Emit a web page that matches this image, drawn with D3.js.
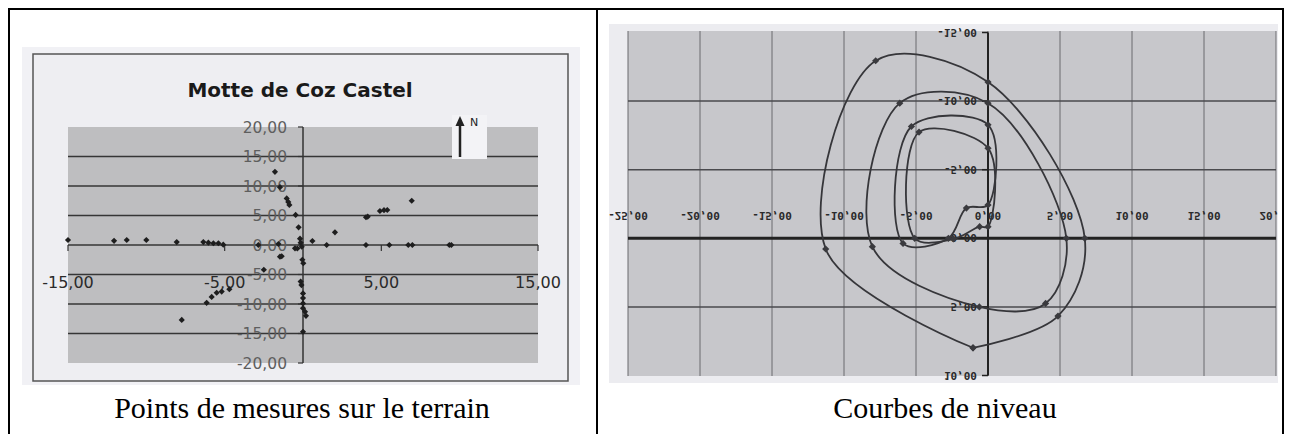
<!DOCTYPE html>
<html><head><meta charset="utf-8">
<script src="https://cdn.jsdelivr.net/npm/d3@7"></script>
<style>body{margin:0;background:#fff;overflow:hidden} svg{display:block}</style>
</head><body>
<svg id="c" width="1291" height="434"></svg>
<script>
// ---------- DATA ----------
const leftTitle = "Motte de Coz Castel";
const leftCaption = "Points de mesures sur le terrain";
const rightCaption = "Courbes de niveau";

// measured points (left chart)
const pointsX = [-15.0,-12.06,-11.25,-10.0,-8.06,-6.36,-6.04,-5.72,-5.4,-5.09,
  -1.79,-1.47,-1.04,-0.94,-0.87,-0.47,-0.28,-0.19,-0.15,0.6,1.51,2.04,
  -2.85,-1.57,-1.47,-1.36,-0.51,-0.36,-0.08,-0.04,0.02,-2.5,
  -0.15,-0.1,0,0,0,0,0.13,0.19,0,
  -6.15,-5.83,-5.51,-5.19,-4.7,-7.74,
  4.02,4.02,4.13,4.91,5.17,5.38,5.51,6.72,6.98,9.34,9.47,6.94];
const pointsY = [0.85,0.7,0.85,0.85,0.5,0.5,0.4,0.3,0.3,0.05,
  12.4,9.8,7.9,7.3,6.8,5.1,3.0,1.07,0.4,0.68,0,2.15,
  0,0.17,-1.98,-1.9,-0.56,-0.6,-0.3,-2.5,-3.1,-4.2,
  -6.2,-6.8,-8.2,-9.0,-9.9,-10.7,-11.3,-12.0,-14.7,
  -9.8,-8.8,-8.1,-7.9,-7.5,-12.7,
  0,4.7,4.8,5.76,5.9,5.93,0,0,0,0,0,7.5];

const leftXTicks = [-15,-5,5,15];
const leftYTicks = [-20,-15,-10,-5,0,5,10,15,20];

// contour lines (right chart), points as [x, y]
const contour1 = [[-1.04,7.98],[-11.27,0.78],[-7.8,-12.94],[0,-11.39],[6.72,0],[4.86,5.67],[-1.04,7.98]];
const contour2 = [[-8.03,0.61],[-6.13,-9.85],[0,-9.85],[5.44,0],[4.0,4.75],[-0.6,5.0]];
const contour3 = [[-5.9,0.37],[-5.32,-8.15],[0,-8.27],[0,-2.43],[-1.5,-2.2],[-2.75,0]];
const contour4 = [[-5.09,0],[-4.79,-7.74],[0,-6.57],[0,-0.85],[-0.58,-0.85],[-2.4,0.05]];

const rightXTicks = [-25,-20,-15,-10,-5,0,5,10,15,20];
const rightYTicks = [-15,-10,-5,0,5,10];

// ---------- DRAW ----------
const svg = d3.select("#c");
const loc = d3.formatLocale({decimal:",", thousands:" ", grouping:[3], currency:["","€"], minus:"-"});
const fmt = loc.format(".2f");

// table borders
const tb = svg.append("g").attr("stroke","#000").attr("stroke-width",2);
tb.append("line").attr("x1",8).attr("x2",1284).attr("y1",9).attr("y2",9);
tb.append("line").attr("x1",9).attr("x2",9).attr("y1",8).attr("y2",434);
tb.append("line").attr("x1",597).attr("x2",597).attr("y1",8).attr("y2",434);
tb.append("line").attr("x1",1283).attr("x2",1283).attr("y1",8).attr("y2",434);

// ===== LEFT CHART =====
const L = svg.append("g");
L.append("rect").attr("x",22).attr("y",47).attr("width",558).attr("height",338).attr("fill","#f1f1f5");
L.append("rect").attr("x",33).attr("y",54).attr("width",535).attr("height",327)
  .attr("fill","#eeeef2").attr("stroke","#555").attr("stroke-width",1.5);

const lx = d3.scaleLinear().domain([-15,15]).range([68,538]);
const ly = d3.scaleLinear().domain([-20,20]).range([363,127]);

L.append("rect").attr("x",lx(-15)).attr("y",ly(20)).attr("width",lx(15)-lx(-15)).attr("height",ly(-20)-ly(20))
  .attr("fill","#bebec0");

// horizontal gridlines
L.append("g").selectAll("line").data(leftYTicks.filter(v=>v!==20 && v!==-20)).join("line")
  .attr("x1",lx(-15)).attr("x2",lx(15)).attr("y1",d=>ly(d)).attr("y2",d=>ly(d))
  .attr("stroke","#363636").attr("stroke-width",1.7);

// north arrow box
L.append("rect").attr("x",452).attr("y",115).attr("width",35).attr("height",44).attr("fill","#f3f3f6");
L.append("line").attr("x1",460).attr("x2",460).attr("y1",157).attr("y2",124).attr("stroke","#222").attr("stroke-width",2.5);
L.append("path").attr("d","M460,116 L455.5,126 L464.5,126 Z").attr("fill","#222");
L.append("text").attr("x",470).attr("y",126).attr("font-family","DejaVu Sans").attr("font-size",11)
  .attr("fill","#222").text("N");

// y axis
L.append("line").attr("x1",lx(0)).attr("x2",lx(0)).attr("y1",ly(20)).attr("y2",ly(-20)).attr("stroke","#333").attr("stroke-width",1.5);
L.append("g").selectAll("line").data(leftYTicks).join("line")
  .attr("x1",lx(0)-5).attr("x2",lx(0)).attr("y1",d=>ly(d)).attr("y2",d=>ly(d)).attr("stroke","#333").attr("stroke-width",1.2);
// x axis ticks
L.append("g").selectAll("line").data(leftXTicks).join("line")
  .attr("x1",d=>lx(d)).attr("x2",d=>lx(d)).attr("y1",ly(0)).attr("y2",ly(0)+6).attr("stroke","#333").attr("stroke-width",1.2);

// y labels
L.append("g").selectAll("text").data(leftYTicks).join("text")
  .attr("x",lx(0)-16).attr("y",d=>ly(d)).attr("dy","0.36em").attr("text-anchor","end")
  .attr("font-family","DejaVu Sans").attr("font-size",15.5).attr("fill","#5e5e5e").text(d=>fmt(d));
// x labels
L.append("g").selectAll("text").data(leftXTicks).join("text")
  .attr("x",d=>lx(d)).attr("y",ly(-6.3)).attr("dy","0.36em").attr("text-anchor","middle")
  .attr("font-family","DejaVu Sans").attr("font-size",16).attr("fill","#2a2a2a").text(d=>fmt(d));

// points (diamond markers)
const sym = d3.symbol().type(d3.symbolSquare).size(19);
L.append("g").selectAll("path").data(pointsX.map((x,i)=>[x,pointsY[i]])).join("path")
  .attr("transform",d=>`translate(${lx(d[0])},${ly(d[1])}) rotate(45)`).attr("d",sym).attr("fill","#1e1e1e");

// title
L.append("text").attr("x",300).attr("y",97).attr("text-anchor","middle")
  .attr("font-family","DejaVu Sans").attr("font-weight","bold").attr("font-size",20).attr("fill","#1a1a1a").text(leftTitle);

// caption
svg.append("text").attr("x",302).attr("y",418).attr("text-anchor","middle")
  .attr("font-family","Liberation Serif").attr("font-size",30).attr("fill","#000").text(leftCaption);

// ===== RIGHT CHART =====
const R = svg.append("g");
svg.append("clipPath").attr("id","rclip").append("rect").attr("x",609).attr("y",24).attr("width",669).attr("height",359);
const Rc = R.append("g").attr("clip-path","url(#rclip)");
Rc.append("rect").attr("x",609).attr("y",24).attr("width",669).attr("height",359).attr("fill","#ececf0");

const rx = d3.scaleLinear().domain([-25,20]).range([628,1276]);
const ry = d3.scaleLinear().domain([-15,10]).range([32.5,375.5]);

Rc.append("rect").attr("x",rx(-25)).attr("y",31).attr("width",rx(20)-rx(-25)).attr("height",345).attr("fill","#c7c7cb");

// vertical gridlines
Rc.append("g").selectAll("line").data(rightXTicks).join("line")
  .attr("x1",d=>rx(d)).attr("x2",d=>rx(d)).attr("y1",31).attr("y2",376)
  .attr("stroke","#6a6a6e").attr("stroke-width",1);
// horizontal gridlines
Rc.append("g").selectAll("line").data(rightYTicks.filter(v=>v!==-15 && v!==10 && v!==0)).join("line")
  .attr("x1",rx(-25)).attr("x2",rx(20)).attr("y1",d=>ry(d)).attr("y2",d=>ry(d))
  .attr("stroke","#4a4a4e").attr("stroke-width",1.5);
// x axis
Rc.append("line").attr("x1",rx(-25)).attr("x2",rx(20)).attr("y1",ry(0)).attr("y2",ry(0))
  .attr("stroke","#222").attr("stroke-width",3);
// y axis
Rc.append("line").attr("x1",rx(0)).attr("x2",rx(0)).attr("y1",ry(-15)).attr("y2",ry(10))
  .attr("stroke","#222").attr("stroke-width",2);
Rc.append("g").selectAll("line").data(rightYTicks).join("line")
  .attr("x1",rx(0)-6).attr("x2",rx(0)).attr("y1",d=>ry(d)).attr("y2",d=>ry(d)).attr("stroke","#222").attr("stroke-width",1.5);

// labels (flipped vertically like the scanned image)
const rlab = {"font-family":"DejaVu Sans Mono","font-weight":"bold","font-size":11,"fill":"#2a2a2a"};
function styl(sel){ for (const k in rlab) sel.attr(k, rlab[k]); return sel; }
styl(Rc.append("g").selectAll("text").data(rightXTicks).join("text")
  .attr("transform",d=>`translate(${rx(d)},${ry(-1.6)}) scale(1,-1)`)
  .attr("dy","0.36em").attr("text-anchor","middle").text(d=>fmt(d)));
styl(Rc.append("g").selectAll("text").data(rightYTicks).join("text")
  .attr("transform",d=>`translate(${rx(0)-11},${ry(d)}) scale(1,-1)`)
  .attr("dy","0.36em").attr("text-anchor","end").text(d=>fmt(d)));

// contours
const lineOpen = d3.line().x(d=>rx(d[0])).y(d=>ry(d[1])).curve(d3.curveCatmullRom.alpha(0.5));
const lineClosed = d3.line().x(d=>rx(d[0])).y(d=>ry(d[1])).curve(d3.curveCatmullRomClosed.alpha(0.5));
const contours = [contour1, contour2, contour3, contour4];
contours.forEach((c,i)=>{
  Rc.append("path").attr("d", i===0 ? lineOpen(c) : lineClosed(c))
    .attr("fill","none").attr("stroke","#36363a").attr("stroke-width",1.8);
});
const sym2 = d3.symbol().type(d3.symbolSquare).size(26);
contours.forEach(c=>{
  Rc.append("g").selectAll("path").data(c).join("path")
    .attr("transform",d=>`translate(${rx(d[0])},${ry(d[1])}) rotate(45)`).attr("d",sym2).attr("fill","#3a3a3e");
});

svg.append("text").attr("x",945).attr("y",418).attr("text-anchor","middle")
  .attr("font-family","Liberation Serif").attr("font-size",30).attr("fill","#000").text(rightCaption);
</script>
</body></html>
